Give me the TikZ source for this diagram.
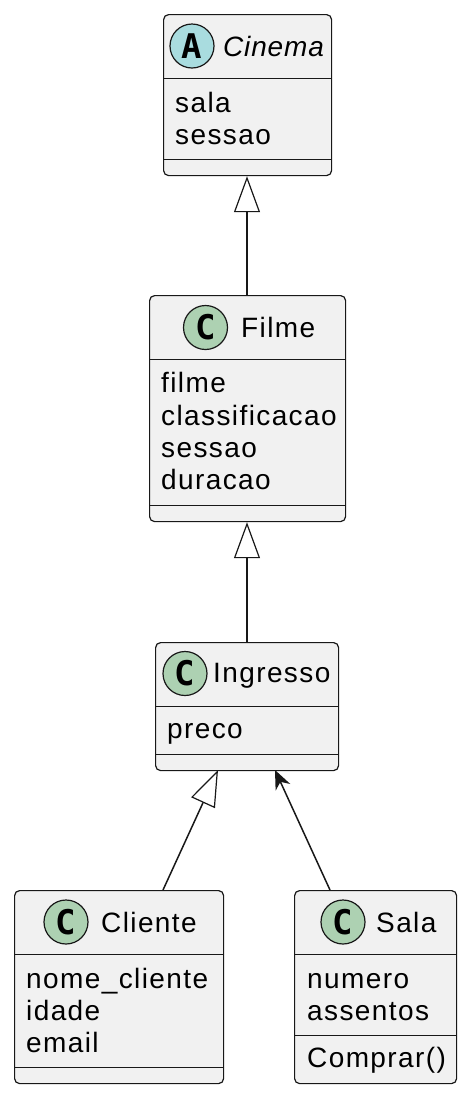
\documentclass[tikz,border=0pt]{standalone}
\usepackage{fontspec}
\setmainfont{Liberation Sans}[LetterSpace=5]
\newfontfamily\italfont{Liberation Sans}[LetterSpace=3]
\newfontfamily\circfont{DejaVu Sans Mono}
\usetikzlibrary{arrows.meta,calc}
\definecolor{linec}{HTML}{181818}
\definecolor{boxfill}{HTML}{F1F1F1}
\definecolor{cgreen}{HTML}{ADD1B2}
\definecolor{acyan}{HTML}{A9DCDF}
\tikzset{
  box/.style={draw=linec, fill=boxfill, rounded corners=5pt, line width=1.2pt, inner sep=0pt, anchor=north west},
  txt/.style={anchor=base west, inner sep=0pt, font=\fontsize{28}{28}\selectfont},
  htxt/.style={txt},
  circ/.style={circle, draw=linec, line width=1.2pt, minimum size=44pt, inner sep=0pt, font=\circfont\bfseries\fontsize{34}{34}\selectfont},
  sepline/.style={draw=linec, line width=1pt},
  inh/.style={draw=linec, line width=1.5pt, -{Triangle[open, length=36pt, width=26pt, line width=1.2pt]}},
  assoc/.style={draw=linec, line width=1.5pt, -{Stealth[length=19pt, width=16pt, inset=6pt]}}
}
\begin{document}
\begin{tikzpicture}[x=1pt, y=-1pt]
\useasboundingbox (0,0) rectangle (470,1096);

% Cinema
\node[box, minimum width=168pt, minimum height=161pt] (cinema) at (163,14) {};
\node[circ, fill=acyan] (cinemaIcon) at (192,46) {A};
\node[htxt, font=\italfont\fontsize{28}{28}\selectfont\itshape] (cinemaName) at (223,56) {Cinema};
\draw[sepline] (163,78) -- (331,78);
\node[txt] (cinemaA1) at (175,112) {sala};
\node[txt] (cinemaA2) at (175,144) {sessao};
\draw[sepline] (163,159) -- (331,159);

% Filme
\node[box, minimum width=196pt, minimum height=226pt] (filme) at (149,295) {};
\node[circ, fill=cgreen] (filmeIcon) at (205.5,327.5) {C};
\node[htxt] (filmeName) at (241,337) {Filme};
\draw[sepline] (149,359) -- (345,359);
\node[txt] (filmeA1) at (161,392) {filme};
\node[txt] (filmeA2) at (161,425) {classificacao};
\node[txt] (filmeA3) at (161,457) {sessao};
\node[txt] (filmeA4) at (161,489) {duracao};
\draw[sepline] (149,505) -- (345,505);

% Ingresso
\node[box, minimum width=183pt, minimum height=128pt] (ingresso) at (155,642) {};
\node[circ, fill=cgreen] (ingressoIcon) at (185,673.5) {C};
\node[htxt] (ingressoName) at (213,682) {Ingresso};
\draw[sepline] (155,706) -- (338,706);
\node[txt] (ingressoA1) at (167,738) {preco};
\draw[sepline] (155,754) -- (338,754);

% Cliente
\node[box, minimum width=209pt, minimum height=193pt] (cliente) at (14,890) {};
\node[circ, fill=cgreen] (clienteIcon) at (66,922) {C};
\node[htxt] (clienteName) at (101,932) {Cliente};
\draw[sepline] (14,954) -- (223,954);
\node[txt] (clienteA1) at (26,988) {nome\_cliente};
\node[txt] (clienteA2) at (26,1020) {idade};
\node[txt] (clienteA3) at (26,1052) {email};
\draw[sepline] (14,1067) -- (223,1067);

% Sala
\node[box, minimum width=162pt, minimum height=193pt] (sala) at (294,890) {};
\node[circ, fill=cgreen] (salaIcon) at (343,922) {C};
\node[htxt] (salaName) at (376,932) {Sala};
\draw[sepline] (294,954) -- (456,954);
\node[txt] (salaA1) at (307,988) {numero};
\node[txt] (salaA2) at (307,1020) {assentos};
\draw[sepline] (294,1035) -- (456,1035);
\node[txt] (salaM1) at (307,1067) {Comprar()};

% connectors
\coordinate (cliTop) at (163,890);
\coordinate (ingBotL) at (218,770);
\coordinate (salaTop) at (330,890);
\coordinate (ingBotR) at (275,770);
\draw[inh] (filme.north -| 247,0) -- (cinema.south -| 247,0);
\draw[inh] (ingresso.north -| 247,0) -- (filme.south -| 247,0);
\draw[inh] (cliTop) -- (ingBotL);
\draw[assoc] (salaTop) -- (ingBotR);
\end{tikzpicture}
\end{document}
